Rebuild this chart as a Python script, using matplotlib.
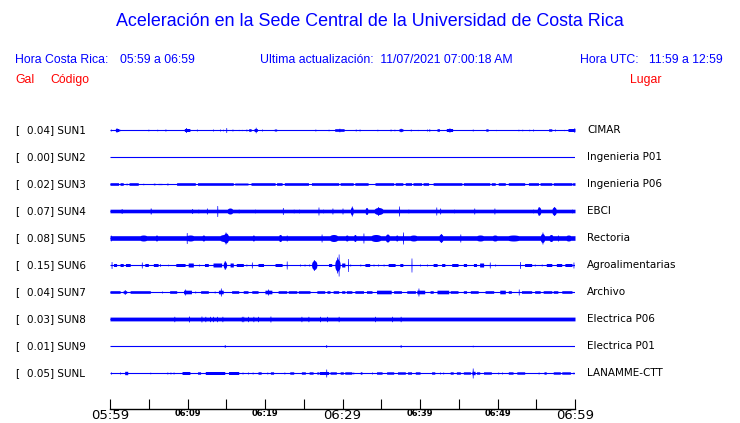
import numpy as np
import matplotlib
matplotlib.use('Agg')
import matplotlib.pyplot as plt

stations = ['SUN1', 'SUN2', 'SUN3', 'SUN4', 'SUN5', 'SUN6', 'SUN7', 'SUN8', 'SUN9', 'SUNL']
peak_gal = [0.04, 0.00, 0.02, 0.07, 0.08, 0.15, 0.04, 0.03, 0.01, 0.05]
places = ['CIMAR', 'Ingenieria P01', 'Ingenieria P06', 'EBCI', 'Rectoria',
          'Agroalimentarias', 'Archivo', 'Electrica P06', 'Electrica P01', 'LANAMME-CTT']

tick_minutes = [0, 5, 10, 15, 20, 25, 30, 35, 40, 45, 50, 55, 60]
tick_labels = ['05:59', '', '06:09', '', '06:19', '', '06:29', '', '06:39', '', '06:49', '', '06:59']

# envelope: (start min, end min, half height px) and spikes (min, half height px)
sun1_bursts = [(0.7, 1.1, 1.5), (9.6, 10.3, 1.5), (17.9, 18.2, 1.3), (18.6, 19.0, 1.5), (21.2, 21.5, 1.0),
               (29.0, 30.2, 1.3), (37.3, 37.8, 1.3), (42.2, 42.5, 1.3), (43.4, 44.2, 1.5), (48.5, 48.8, 1.2),
               (56.6, 57.0, 1.2), (59.1, 60.0, 1.5)]
sun1_spikes = [(0.1, 1.0), (0.85, 2.3), (1.2, 1.2), (4.95, 0.8), (6.1, 0.8), (7.15, 1.0), (9.8, 2.5), (11.2, 1.0),
               (13.3, 1.0), (14.2, 1.0), (14.6, 0.8), (15.0, 2.5), (15.8, 1.0), (16.6, 0.6), (17.0, 0.6), (17.6, 1.0),
               (18.8, 2.8), (19.6, 1.0), (26.5, 1.0), (28.2, 0.8), (29.6, 1.8), (31.7, 1.0), (32.2, 1.0), (34.5, 0.8),
               (36.2, 1.0), (36.7, 0.8), (37.5, 1.8), (38.8, 1.0), (39.7, 0.6), (40.9, 1.0), (41.2, 1.3), (43.8, 2.2),
               (46.8, 1.0), (49.8, 0.6), (52.7, 0.8), (53.2, 0.8), (54.1, 0.8), (54.6, 1.0), (57.4, 1.0), (58.6, 0.6),
               (59.9, 2.2)]

sun2_bursts = []
sun2_spikes = []

sun3_bursts = [(0, 1.1, 1.3), (1.3, 1.7, 1.3), (2.45, 3.65, 1.3), (5.6, 5.8, 0.8), (6.2, 6.7, 0.6), (7.3, 7.5, 0.8),
               (8.6, 11.0, 1.3), (11.3, 15.9, 1.3), (16.1, 17.8, 1.0), (18.2, 21.3, 1.3), (21.5, 22.2, 1.3),
               (22.5, 25.6, 1.3), (26.0, 29.5, 1.3), (29.7, 31.4, 1.3), (31.6, 33.3, 1.3), (34.2, 36.6, 1.3),
               (36.8, 37.8, 1.3), (38.1, 38.9, 1.3), (39.1, 40.2, 1.3), (40.4, 41.1, 1.3), (41.7, 45.4, 1.3),
               (45.6, 49.0, 1.3), (49.2, 49.7, 1.3), (50.1, 51.0, 1.3), (51.4, 53.5, 1.3), (54.0, 55.3, 1.3),
               (55.5, 57.0, 1.3), (57.2, 59.6, 1.3), (59.7, 60.0, 1.3)]
sun3_spikes = [(2.15, 1.0), (4.3, 0.8)]

sun4_bursts = [(0, 60, 1.8), (15.05, 15.9, 3.0), (31.0, 31.4, 4.0), (32.9, 33.3, 3.5), (34.0, 35.3, 3.5),
               (55.1, 55.6, 4.0), (57.0, 57.6, 4.0)]
sun4_spikes = [(1.5, 2.5), (5.25, 3.0), (10.6, 2.5), (11.4, 2.0), (12.5, 3.0), (13.85, 5.5), (16.6, 2.0), (18.7, 2.0),
               (22.3, 3.5), (23.7, 2.0), (24.4, 2.0), (26.9, 4.0), (27.5, 2.0), (28.7, 3.0), (30.0, 3.0), (31.2, 5.0),
               (34.6, 4.5), (37.3, 5.0), (38.5, 2.0), (42.1, 4.0), (42.6, 3.0), (44.4, 2.0), (47.0, 3.0), (49.6, 3.0),
               (54.6, 2.0), (55.3, 4.5), (57.3, 4.5), (59.6, 2.0)]

sun5_bursts = [(0, 60, 2.3), (0, 0.2, 3.0), (3.65, 4.95, 3.0), (5.8, 6.2, 3.0), (9.7, 11.0, 3.0), (11.8, 12.3, 3.0),
               (14.0, 15.5, 3.5), (14.6, 15.3, 5.0), (18.3, 18.7, 3.0), (21.7, 22.2, 3.5), (28.2, 29.5, 3.5),
               (30.3, 30.8, 3.0), (31.4, 31.8, 3.5), (33.5, 35.1, 3.5), (35.5, 36.1, 4.0), (36.8, 37.2, 3.0),
               (38.5, 39.8, 3.0), (42.4, 43.0, 4.0), (47.1, 48.4, 3.0), (49.2, 50.1, 3.0), (51.0, 53.1, 3.0),
               (55.5, 56.1, 4.5), (56.6, 57.2, 3.5), (58.7, 59.6, 3.0)]
sun5_spikes = [(9.9, 5.5), (14.9, 6.0), (22.8, 3.0), (27.3, 4.0), (32.7, 5.0), (37.8, 6.0), (42.7, 4.5), (45.2, 4.0),
               (55.8, 6.0), (57.8, 3.0)]

sun6_bursts = [(0.45, 0.85, 1.5), (1.3, 1.7, 1.5), (2.0, 2.6, 1.5), (4.5, 4.95, 1.5), (5.6, 6.2, 1.5), (8.5, 9.7, 1.5),
               (10.1, 10.75, 2.0), (12.2, 12.7, 1.5), (13.3, 14.4, 2.0), (14.6, 15.05, 3.5), (15.5, 15.9, 2.0),
               (16.3, 17.2, 1.5), (19.1, 19.8, 1.5), (21.3, 22.2, 1.5), (26.0, 26.7, 4.5), (28.2, 28.6, 1.5),
               (29.0, 29.7, 6.0), (29.9, 30.3, 2.0), (32.9, 33.5, 1.5), (35.9, 36.8, 1.5), (37.4, 37.8, 1.5),
               (41.7, 42.2, 1.5), (42.8, 43.2, 1.5), (44.1, 44.9, 1.5), (45.6, 46.0, 1.5), (46.9, 47.3, 1.5),
               (47.7, 48.2, 2.0), (53.5, 54.4, 1.5), (56.3, 57.0, 1.5), (57.6, 58.3, 1.5), (58.7, 59.6, 1.5)]
sun6_spikes = [(0.2, 3.5), (4.1, 3.0), (6.45, 1.2), (7.5, 0.8), (11.5, 1.0), (14.8, 4.5), (17.6, 1.0), (18.3, 3.0),
               (22.8, 4.0), (24.5, 1.0), (25.1, 1.0), (25.7, 1.0), (26.3, 5.5), (29.3, 8.0), (29.5, 11.0), (30.7, 6.5),
               (31.0, 1.0), (32.3, 1.0), (34.0, 1.0), (34.6, 1.0), (35.3, 1.0), (38.9, 7.0), (40.0, 1.0), (40.9, 1.0),
               (49.0, 3.0), (49.7, 1.0), (52.9, 3.5), (54.8, 1.0), (55.7, 1.0), (59.8, 3.0)]

sun7_bursts = [(0, 1.3, 1.3), (1.7, 2.15, 1.3), (2.6, 5.2, 1.3), (7.7, 8.6, 1.3), (9.5, 10.5, 1.8), (11.7, 12.7, 1.3),
               (14.0, 14.6, 1.8), (15.7, 16.6, 1.3), (17.2, 17.8, 1.3), (18.3, 19.1, 1.3), (20.0, 20.9, 1.8),
               (21.7, 22.8, 1.3), (23.0, 24.1, 1.3), (24.3, 25.8, 1.3), (26.7, 27.7, 1.3), (28.0, 28.4, 1.3),
               (28.8, 29.5, 1.3), (29.9, 30.3, 1.3), (30.5, 31.2, 1.3), (31.6, 32.7, 1.3), (33.1, 33.8, 1.3),
               (34.4, 36.3, 1.8), (36.6, 37.6, 1.3), (38.3, 39.4, 1.3), (39.6, 40.6, 1.8), (41.3, 41.7, 1.3),
               (42.2, 43.7, 1.8), (43.9, 44.9, 1.3), (45.6, 46.0, 1.3), (46.5, 47.5, 1.3), (48.4, 49.5, 1.3),
               (50.3, 51.0, 1.8), (51.4, 51.8, 1.3), (53.1, 54.4, 1.3), (54.8, 55.5, 1.3), (55.9, 57.0, 1.3),
               (57.2, 57.8, 1.3), (58.3, 59.6, 1.3)]
sun7_spikes = [(1.9, 2.5), (6.7, 1.0), (9.7, 3.0), (11.0, 1.0), (13.5, 1.0), (14.3, 4.0), (20.4, 3.0), (39.8, 4.0),
               (52.75, 3.0)]

sun8_bursts = [(0, 60, 1.9)]
sun8_spikes = [(8.3, 2.7), (10.2, 3.0), (11.8, 3.0), (12.3, 2.7), (12.9, 2.7), (13.3, 2.7), (13.8, 2.7), (14.5, 2.7),
               (17.0, 2.7), (17.2, 2.7), (17.8, 2.7), (18.5, 2.7), (19.1, 2.7), (20.7, 3.0), (24.7, 2.7), (25.6, 2.7),
               (27.1, 2.7), (28.0, 2.7), (29.5, 2.7), (34.2, 2.7), (36.4, 2.7), (37.5, 2.7)]

sun9_bursts = []
sun9_spikes = [(14.8, 1.5), (27.9, 1.5), (37.5, 1.5), (46.8, 0.8)]

sunl_bursts = [(1.9, 2.3, 1.7), (9.3, 10.3, 1.5), (11.3, 11.7, 1.2), (12.3, 14.8, 1.5), (15.3, 16.6, 1.5),
               (19.1, 19.5, 1.2), (20.7, 21.1, 1.2), (23.2, 23.7, 1.2), (24.7, 25.2, 1.2), (25.7, 26.2, 1.2),
               (26.7, 26.9, 1.2), (27.0, 28.2, 1.5), (28.4, 29.2, 1.2), (29.7, 30.1, 1.2), (30.3, 31.2, 1.2),
               (32.3, 32.5, 1.2), (34.4, 35.1, 1.2), (35.7, 36.6, 1.2), (37.1, 38.1, 1.2), (38.4, 38.9, 1.2),
               (39.4, 40.0, 1.2), (41.5, 41.9, 1.2), (43.9, 44.3, 1.2), (44.7, 45.2, 1.2), (45.6, 46.5, 1.2),
               (46.7, 47.1, 1.7), (47.3, 47.7, 1.2), (48.2, 49.2, 1.2), (51.4, 52.0, 1.2), (52.5, 53.5, 1.2),
               (56.0, 56.3, 1.2), (57.2, 58.1, 1.2), (58.3, 59.4, 1.2)]
sunl_spikes = [(0.13, 1.0), (1.3, 1.0), (5.2, 0.8), (7.4, 1.0), (7.8, 1.0), (8.2, 1.0), (17.1, 1.0), (17.8, 1.0),
               (18.4, 1.0), (20.3, 1.0), (22.5, 1.0), (27.9, 4.0), (31.4, 1.0), (33.8, 1.0), (42.6, 1.0), (43.0, 1.0),
               (46.8, 5.0), (50.1, 1.0), (50.6, 1.0), (55.3, 1.0), (59.8, 1.0)]

all_bursts = [sun1_bursts, sun2_bursts, sun3_bursts, sun4_bursts, sun5_bursts,
              sun6_bursts, sun7_bursts, sun8_bursts, sun9_bursts, sunl_bursts]
all_spikes = [sun1_spikes, sun2_spikes, sun3_spikes, sun4_spikes, sun5_spikes,
              sun6_spikes, sun7_spikes, sun8_spikes, sun9_spikes, sunl_spikes]

W, H = 740, 423
fig = plt.figure(figsize=(W / 100, H / 100), dpi=100)
fig.patch.set_facecolor('white')

# axes in pixel rows: top 115, bottom (time axis line) 409
ax = fig.add_axes([110 / W, 1 - 409 / H, 465 / W, (409 - 115) / H])
ax.set_xlim(0, 60)
ax.set_ylim(409, 115)

t = np.linspace(0, 60, 3001)
for i in range(len(stations)):
    y0 = 130 + 27 * i
    env = np.zeros_like(t)
    for a, b, h in all_bursts[i]:
        m = (t >= a) & (t <= b)
        if h >= 2.5:
            # taller bursts drawn as a spindle
            mid, half = (a + b) / 2, (b - a) / 2
            shape = h * np.sqrt(np.clip(1 - ((t[m] - mid) / half) ** 2, 0, 1))
            env[m] = np.maximum(env[m], shape)
        else:
            env[m] = np.maximum(env[m], h)
    for c, h in all_spikes[i]:
        m = np.abs(t - c) <= 0.05
        env[m] = np.maximum(env[m], h)
    ax.plot([0, 60], [y0, y0], color='blue', lw=0.8, solid_capstyle='butt')
    ax.fill_between(t, y0 - env, y0 + env, color='blue', lw=0)

    fig.text(15 / W, 1 - y0 / H, '[', fontsize=7.5, color='black', va='center')
    fig.text(27 / W, 1 - y0 / H, '%.2f] %s' % (peak_gal[i], stations[i]),
             fontsize=7.5, color='black', va='center')
    fig.text(587 / W, 1 - y0 / H, places[i], fontsize=7.5, color='black', va='center')

for s in ['top', 'left', 'right']:
    ax.spines[s].set_visible(False)
ax.spines['bottom'].set_linewidth(1.0)
ax.set_yticks([])
ax.set_xticks(tick_minutes)
ax.set_xticklabels(tick_labels)
ax.tick_params(axis='x', direction='in', length=7.5, width=0.8, pad=0, color='black')
for lab, txt in zip(ax.get_xticklabels(), tick_labels):
    if txt in ('05:59', '06:29', '06:59'):
        lab.set_fontsize(9.5)
    else:
        lab.set_fontsize(6)
        lab.set_fontweight('bold')

hf = 'Liberation Sans'
fig.text(0.5, 1 - 22 / H, 'Aceleración en la Sede Central de la Universidad de Costa Rica',
         fontsize=12.9, color='blue', ha='center', va='center', family=hf)
fig.text(15 / W, 1 - 60 / H, 'Hora Costa Rica:', fontsize=8.8, color='blue', va='center', family=hf)
fig.text(120 / W, 1 - 60 / H, '05:59 a 06:59', fontsize=8.8, color='blue', va='center', family=hf)
fig.text(260 / W, 1 - 60 / H, 'Ultima actualización:  11/07/2021 07:00:18 AM', fontsize=8.8, color='blue',
         va='center', family=hf)
fig.text(580 / W, 1 - 60 / H, 'Hora UTC:', fontsize=8.8, color='blue', va='center', family=hf)
fig.text(723 / W, 1 - 60 / H, '11:59 a 12:59', fontsize=8.8, color='blue', va='center', ha='right', family=hf)
fig.text(15 / W, 1 - 80 / H, 'Gal', fontsize=8.8, color='red', va='center', family=hf)
fig.text(50 / W, 1 - 80 / H, 'Código', fontsize=8.8, color='red', va='center', family=hf)
fig.text(630 / W, 1 - 80 / H, 'Lugar', fontsize=8.8, color='red', va='center', family=hf)

fig.savefig('out.png', dpi=100)
